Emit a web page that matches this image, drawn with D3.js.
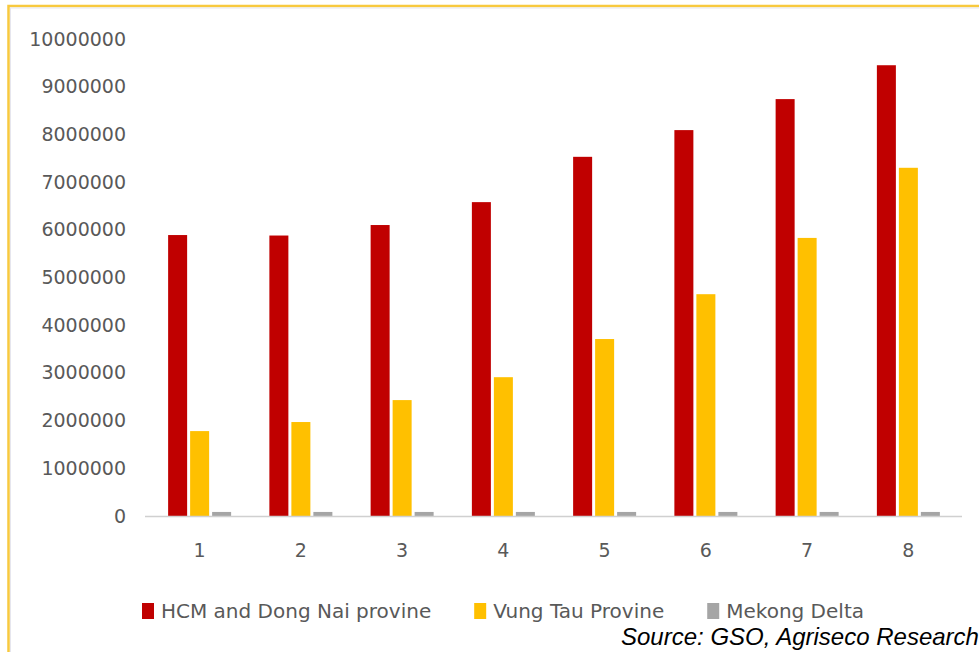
<!DOCTYPE html>
<html>
<head>
<meta charset="utf-8">
<script src="https://cdn.jsdelivr.net/npm/d3@7/dist/d3.min.js"></script>
<style>
  html, body { margin: 0; padding: 0; background: #ffffff; }
  svg { display: block; }
</style>
</head>
<body>
<svg id="chart" width="979" height="652"></svg>
<script>
// Periods on the x axis
const categories = ["1", "2", "3", "4", "5", "6", "7", "8"];

// Series names, as shown in the legend
const seriesNames = ["HCM and Dong Nai provine", "Vung Tau Provine", "Mekong Delta"];

// Values per period for each series
const hcmDongNai = [5890000, 5880000, 6100000, 6580000, 7530000, 8090000, 8740000, 9450000];
const vungTau    = [1780000, 1970000, 2430000, 2910000, 3710000, 4650000, 5830000, 7300000];
const mekongDelta = [85000, 85000, 85000, 85000, 85000, 85000, 85000, 85000];

// Y axis ticks
const yTicks = [0, 1000000, 2000000, 3000000, 4000000, 5000000, 6000000, 7000000, 8000000, 9000000, 10000000];

const sourceNote = "Source: GSO, Agriseco Research";

const seriesValues = [hcmDongNai, vungTau, mekongDelta];
const colors = ["#C00000", "#FFC000", "#A5A5A5"];
const textColor = "#595959";
const font = "'DejaVu Sans', sans-serif";

const svg = d3.select("#chart");

// Frame around the chart area
svg.append("rect")
  .attr("x", 8.5).attr("y", 6)
  .attr("width", 1200).attr("height", 900)
  .attr("fill", "none")
  .attr("stroke", "#F8C93E")
  .attr("stroke-width", 2.5);
svg.append("rect")
  .attr("x", 10.5).attr("y", 8)
  .attr("width", 1200).attr("height", 900)
  .attr("fill", "none")
  .attr("stroke", "#E6E6EE")
  .attr("stroke-width", 1);

// Scales
const y = d3.scaleLinear().domain([0, 10000000]).range([516, 39]);
const x0 = d3.scaleBand().domain(categories).range([149, 959]).padding(0);
const groupWidth = 63;
const x1 = d3.scaleBand().domain(d3.range(seriesNames.length))
  .range([0, groupWidth]).paddingInner(0.136).paddingOuter(0);

// Table built from the arrays
const rows = categories.map((c, i) => ({
  cat: c,
  values: seriesValues.map((s, k) => ({ k, v: s[i] }))
}));

// Bars
const groups = svg.append("g").selectAll("g")
  .data(rows).join("g")
  .attr("transform", d => `translate(${x0(d.cat) + (x0.bandwidth() - groupWidth) / 2},0)`);

groups.selectAll("rect")
  .data(d => d.values).join("rect")
  .attr("x", d => x1(d.k))
  .attr("width", x1.bandwidth())
  .attr("y", d => y(d.v))
  .attr("height", d => y(0) - y(d.v))
  .attr("fill", d => colors[d.k]);

// Category baseline
svg.append("line")
  .attr("x1", 145).attr("x2", 962)
  .attr("y1", y(0) + 0.5).attr("y2", y(0) + 0.5)
  .attr("stroke", "#D0D0D0")
  .attr("stroke-width", 1.5);

// Y axis (labels only)
const yAxis = svg.append("g")
  .attr("transform", "translate(129,0)")
  .call(d3.axisLeft(y).tickValues(yTicks).tickSize(0).tickPadding(3).tickFormat(d3.format("d")));
yAxis.select(".domain").remove();
yAxis.selectAll("text")
  .attr("fill", textColor)
  .style("font-family", font)
  .style("font-size", "19px");

// X axis (labels only)
const xAxis = svg.append("g")
  .attr("transform", `translate(0,${y(0)})`)
  .call(d3.axisBottom(x0).tickSize(0).tickPadding(28));
xAxis.select(".domain").remove();
xAxis.selectAll("text")
  .attr("fill", textColor)
  .style("font-family", font)
  .style("font-size", "19px");

// Legend
const legend = svg.append("g");
let lx = 142;
seriesNames.forEach((name, k) => {
  legend.append("rect")
    .attr("x", lx).attr("y", 603)
    .attr("width", 12).attr("height", 16)
    .attr("fill", colors[k]);
  const t = legend.append("text")
    .attr("x", lx + 19).attr("y", 618)
    .attr("fill", textColor)
    .style("font-family", font)
    .style("font-size", "20px")
    .text(name);
  lx = lx + 19 + t.node().getComputedTextLength() + 43;
});

// Source note
svg.append("text")
  .attr("x", 621).attr("y", 645)
  .attr("fill", "#000000")
  .style("font-family", "'Liberation Sans', Arial, sans-serif")
  .style("font-style", "italic")
  .style("font-size", "24px")
  .text(sourceNote);
</script>
</body>
</html>
